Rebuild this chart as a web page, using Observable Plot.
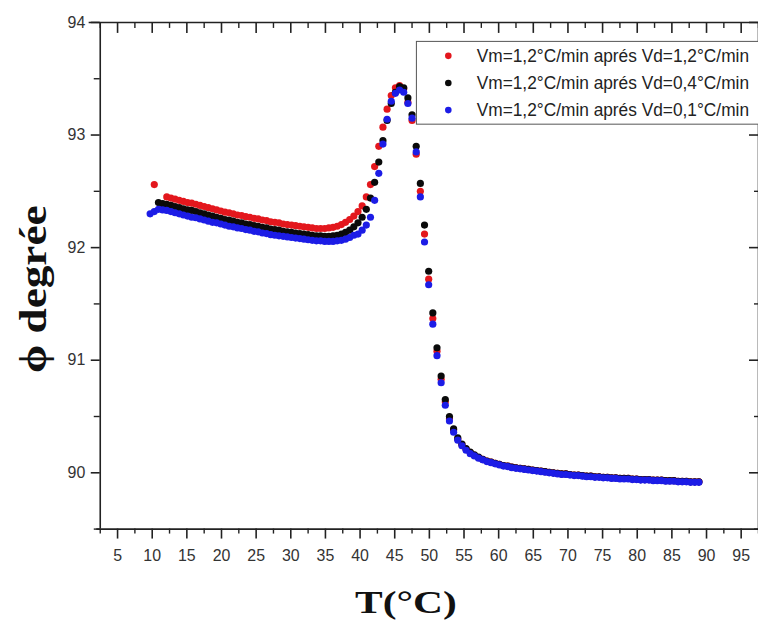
<!DOCTYPE html>
<html><head><meta charset="utf-8">
<script src="https://cdn.jsdelivr.net/npm/d3@7"></script>
<script src="https://cdn.jsdelivr.net/npm/@observablehq/plot@0.6"></script>
<style>
html,body{margin:0;padding:0;background:#fff;overflow:hidden;}
#chart{position:relative;width:758px;height:624px;overflow:hidden;}
</style></head><body><div id="chart"></div>
<script>
const temps = [9.7,10.3,10.9,11.5,12.1,12.7,13.3,13.9,14.5,15.1,
15.7,16.3,16.9,17.5,18.1,18.7,19.3,19.9,20.5,21.1,
21.7,22.3,22.9,23.5,24.1,24.7,25.3,25.9,26.5,27.1,
27.7,28.3,28.9,29.5,30.1,30.7,31.3,31.9,32.5,33.1,
33.7,34.3,34.9,35.5,36.1,36.7,37.3,37.9,38.5,39.1,
39.7,40.3,40.9,41.5,42.1,42.7,43.3,43.9,44.5,45.1,
45.7,46.3,46.9,47.5,48.1,48.7,49.3,49.9,50.5,51.1,
51.7,52.3,52.9,53.5,54.1,54.7,55.3,55.9,56.5,57.1,
57.7,58.3,58.9,59.5,60.1,60.7,61.3,61.9,62.5,63.1,
63.7,64.3,64.9,65.5,66.1,66.7,67.3,67.9,68.5,69.1,
69.7,70.3,70.9,71.5,72.1,72.7,73.3,73.9,74.5,75.1,
75.7,76.3,76.9,77.5,78.1,78.7,79.3,79.9,80.5,81.1,
81.7,82.3,82.9,83.5,84.1,84.7,85.3,85.9,86.5,87.1,
87.7,88.3,88.9];

const phiRed = [null,92.56,null,null,92.45,92.44,92.43,92.42,92.41,92.40,
92.395,92.385,92.375,92.365,92.355,92.345,92.335,92.325,92.315,92.31,
92.30,92.29,92.285,92.275,92.27,92.26,92.255,92.245,92.24,92.23,
92.225,92.22,92.21,92.205,92.20,92.195,92.19,92.185,92.18,92.175,
92.17,92.17,92.17,92.175,92.18,92.19,92.205,92.225,92.25,92.28,
92.32,92.37,92.45,92.56,92.72,92.90,93.07,93.23,93.35,93.42,
93.44,93.41,93.29,93.13,92.83,92.50,92.12,91.72,91.37,91.08,
90.83,90.63,90.48,90.38,90.30,90.25,90.21,90.18,90.155,90.135,
90.12,90.105,90.095,90.085,90.075,90.065,90.06,90.05,90.045,90.04,
90.035,90.03,90.025,90.02,90.015,90.01,90.005,90.0,89.995,89.99,
89.99,89.985,89.98,89.98,89.975,89.97,89.97,89.965,89.965,89.96,
89.96,89.955,89.955,89.95,89.95,89.95,89.945,89.945,89.94,89.94,
89.94,89.935,89.935,89.935,89.93,89.93,89.93,89.925,89.925,89.925,
89.92,89.92,89.92];

const phiBlack = [null,null,92.40,92.39,92.385,92.375,92.365,92.355,92.345,92.335,
92.33,92.32,92.31,92.30,92.29,92.28,92.27,92.26,92.25,92.245,
92.235,92.225,92.22,92.21,92.205,92.195,92.19,92.18,92.175,92.165,
92.16,92.155,92.145,92.14,92.135,92.13,92.125,92.12,92.115,92.11,
92.105,92.105,92.10,92.10,92.105,92.11,92.12,92.135,92.155,92.185,
92.22,92.27,92.34,92.44,92.58,92.76,92.95,93.13,93.28,93.38,
93.43,93.42,93.33,93.18,92.90,92.57,92.20,91.79,91.42,91.11,
90.86,90.65,90.50,90.39,90.31,90.255,90.215,90.185,90.16,90.14,
90.12,90.105,90.095,90.085,90.075,90.065,90.06,90.05,90.045,90.04,
90.035,90.03,90.025,90.02,90.015,90.01,90.005,90.0,89.995,89.99,
89.99,89.985,89.98,89.98,89.975,89.97,89.97,89.965,89.965,89.96,
89.96,89.955,89.955,89.95,89.95,89.95,89.945,89.945,89.94,89.94,
89.94,89.935,89.935,89.935,89.93,89.93,89.93,89.925,89.925,89.925,
89.92,89.92,89.92];

const phiBlue = [92.30,92.32,92.34,92.335,92.33,92.32,92.31,92.30,92.29,92.28,
92.27,92.265,92.255,92.245,92.235,92.225,92.22,92.21,92.20,92.19,
92.185,92.175,92.17,92.16,92.155,92.145,92.14,92.13,92.125,92.115,
92.11,92.105,92.10,92.095,92.09,92.085,92.08,92.075,92.07,92.065,
92.06,92.06,92.055,92.055,92.055,92.06,92.065,92.075,92.09,92.11,
92.12,92.155,92.20,92.27,92.42,92.66,92.92,93.14,93.30,93.37,
93.40,93.38,93.28,93.15,92.85,92.45,92.05,91.67,91.32,91.04,
90.80,90.60,90.46,90.36,90.29,90.24,90.20,90.17,90.15,90.13,
90.115,90.10,90.09,90.08,90.07,90.06,90.055,90.045,90.04,90.035,
90.03,90.025,90.02,90.015,90.01,90.005,90.0,89.995,89.99,89.985,
89.985,89.98,89.975,89.975,89.97,89.965,89.965,89.96,89.96,89.955,
89.955,89.95,89.95,89.945,89.945,89.945,89.94,89.94,89.935,89.935,
89.935,89.93,89.93,89.93,89.925,89.925,89.925,89.92,89.92,89.92,
89.915,89.915,89.915];

const seriesNames = ["Vm=1,2°C/min aprés Vd=1,2°C/min", "Vm=1,2°C/min aprés Vd=0,4°C/min", "Vm=1,2°C/min aprés Vd=0,1°C/min"];
const seriesColors = ["#e3171d", "#0a0a0a", "#1c1ce6"];
const xTicks = [5,10,15,20,25,30,35,40,45,50,55,60,65,70,75,80,85,90,95];
const xMinor = [2.5,7.5,12.5,17.5,22.5,27.5,32.5,37.5,42.5,47.5,52.5,57.5,62.5,67.5,72.5,77.5,82.5,87.5,92.5,97.5];
const yTicks = [90,91,92,93,94];
const yMinor = [89.5,90.5,91.5,92.5,93.5];
const xTitle = "T(°C)";
const yTitle = "ϕ degrée";

const series = [phiRed, phiBlack, phiBlue];
const rows = [];
series.forEach((vals, s) => {
  vals.forEach((v, i) => { if (v != null) rows.push({T: temps[i], phi: v, series: seriesNames[s]}); });
});

const axisColor = "#222";
const noLabel = () => "";
const plot = Plot.plot({
  width: 760, height: 624,
  marginLeft: 100, marginRight: 0, marginTop: 22, marginBottom: 94,
  x: {domain: [2.5, 97.5]},
  y: {domain: [89.5, 94]},
  color: {domain: seriesNames, range: seriesColors},
  style: {fontFamily: "'Liberation Sans', Arial, sans-serif", fontSize: "16px", color: "#333", background: "#fff"},
  marks: [
    Plot.dot(rows, {x: "T", y: "phi", fill: "series", r: 3.6}),
    Plot.ruleY([94], {x1: 0.9, x2: 97.5, stroke: axisColor, strokeWidth: 1.6}),
    Plot.ruleY([89.5], {x1: 2.0, x2: 97.5, stroke: axisColor, strokeWidth: 1.6}),
    Plot.ruleX([2.5], {y1: 89.5, y2: 94, stroke: axisColor, strokeWidth: 1.6}),
    Plot.ruleX([97.5], {y1: 89.5, y2: 94, stroke: axisColor, strokeWidth: 1.6}),
    Plot.axisX({anchor: "bottom", ticks: xTicks, tickSize: 10, tickPadding: 11, tickFormat: d => String(d), label: null, stroke: axisColor, strokeWidth: 1.6, fill: "#333", fontSize: 16}),
    Plot.axisX({anchor: "bottom", ticks: xMinor, tickSize: 5, tickFormat: noLabel, label: null, stroke: axisColor, strokeWidth: 1.4}),
    Plot.axisX({anchor: "top", ticks: xTicks, tickSize: -10, tickFormat: noLabel, label: null, stroke: axisColor, strokeWidth: 1.6}),
    Plot.axisX({anchor: "top", ticks: xMinor, tickSize: -5, tickFormat: noLabel, label: null, stroke: axisColor, strokeWidth: 1.4}),
    Plot.axisY({anchor: "left", ticks: yTicks, tickSize: 9, tickPadding: 6, tickFormat: d => String(d), label: null, stroke: axisColor, strokeWidth: 1.6, fill: "#333", fontSize: 16}),
    Plot.axisY({anchor: "left", ticks: yMinor, tickSize: 6, tickFormat: noLabel, label: null, stroke: axisColor, strokeWidth: 1.4}),
    Plot.axisY({anchor: "right", ticks: yTicks, tickSize: -10, tickFormat: noLabel, label: null, stroke: axisColor, strokeWidth: 1.6}),
    Plot.axisY({anchor: "right", ticks: yMinor, tickSize: -5, tickFormat: noLabel, label: null, stroke: axisColor, strokeWidth: 1.4})
  ]
});

const svg = d3.select(plot);
const lg = svg.append("g").attr("text-anchor", "start");
lg.append("rect").attr("x", 417.5).attr("y", 41.5).attr("width", 345).attr("height", 83)
  .attr("fill", "#fff").attr("stroke", "#555").attr("stroke-width", 1);
seriesNames.forEach((name, i) => {
  const cy = 56 + i * 27.2;
  lg.append("circle").attr("cx", 449.5).attr("cy", cy).attr("r", 3.3).attr("fill", seriesColors[i]);
  lg.append("text").attr("x", 478).attr("y", cy).attr("dy", "0.36em").attr("text-anchor", "start")
    .attr("font-size", 17.5).attr("textLength", 273).attr("lengthAdjust", "spacingAndGlyphs")
    .attr("fill", "#222").text(name);
});
svg.append("text").attr("x", 407).attr("y", 615).attr("text-anchor", "middle")
  .attr("font-family", "'Liberation Serif','Times New Roman',serif").attr("font-weight", "bold")
  .attr("font-size", 32).attr("textLength", 102).attr("lengthAdjust", "spacingAndGlyphs")
  .attr("fill", "#111").text(xTitle);
svg.append("text").attr("transform", "translate(46,290) rotate(-90)").attr("text-anchor", "middle")
  .attr("font-family", "'Liberation Serif','Times New Roman',serif").attr("font-weight", "bold")
  .attr("font-size", 38).attr("textLength", 168).attr("lengthAdjust", "spacingAndGlyphs")
  .attr("fill", "#111").text(yTitle);

document.getElementById("chart").appendChild(plot);
</script></body></html>
